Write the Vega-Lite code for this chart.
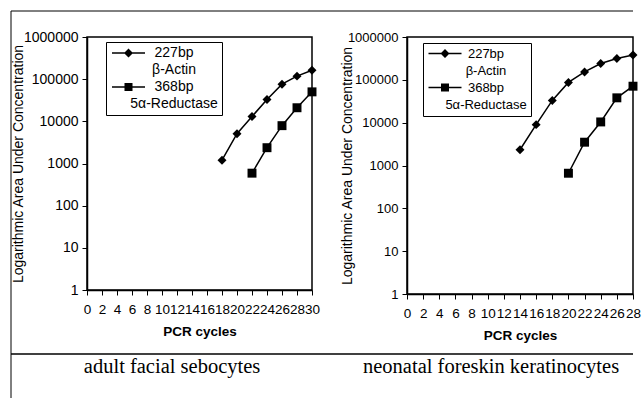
{
  "$schema": "https://vega.github.io/schema/vega-lite/v6.json",
  "padding": {"left": 10, "top": 10, "right": 0, "bottom": 0},
  "background": "white",
  "datasets": {
    "pcr": [
      {"panel": "adult", "gene": "227bp", "cycle": 18, "value": 1200},
      {"panel": "adult", "gene": "227bp", "cycle": 20, "value": 5100},
      {"panel": "adult", "gene": "227bp", "cycle": 22, "value": 13000},
      {"panel": "adult", "gene": "227bp", "cycle": 24, "value": 33000},
      {"panel": "adult", "gene": "227bp", "cycle": 26, "value": 76000},
      {"panel": "adult", "gene": "227bp", "cycle": 28, "value": 118000},
      {"panel": "adult", "gene": "227bp", "cycle": 30, "value": 163000},
      {"panel": "adult", "gene": "368bp", "cycle": 22, "value": 590},
      {"panel": "adult", "gene": "368bp", "cycle": 24, "value": 2370},
      {"panel": "adult", "gene": "368bp", "cycle": 26, "value": 7900},
      {"panel": "adult", "gene": "368bp", "cycle": 28, "value": 21000},
      {"panel": "adult", "gene": "368bp", "cycle": 30, "value": 50000},
      {"panel": "neonatal", "gene": "227bp", "cycle": 14, "value": 2330},
      {"panel": "neonatal", "gene": "227bp", "cycle": 16, "value": 9000},
      {"panel": "neonatal", "gene": "227bp", "cycle": 18, "value": 33000},
      {"panel": "neonatal", "gene": "227bp", "cycle": 20, "value": 87000},
      {"panel": "neonatal", "gene": "227bp", "cycle": 22, "value": 153000},
      {"panel": "neonatal", "gene": "227bp", "cycle": 24, "value": 240000},
      {"panel": "neonatal", "gene": "227bp", "cycle": 26, "value": 315000},
      {"panel": "neonatal", "gene": "227bp", "cycle": 28, "value": 380000},
      {"panel": "neonatal", "gene": "368bp", "cycle": 20, "value": 660},
      {"panel": "neonatal", "gene": "368bp", "cycle": 22, "value": 3500},
      {"panel": "neonatal", "gene": "368bp", "cycle": 24, "value": 10400},
      {"panel": "neonatal", "gene": "368bp", "cycle": 26, "value": 38000},
      {"panel": "neonatal", "gene": "368bp", "cycle": 28, "value": 71000}
    ],
    "one": [{"k": 0}]
  },
  "columns": 4,
  "spacing": 0,
  "bounds": "flush",
  "align": "each",
  "resolve": {"scale": {"shape": "independent", "x": "independent", "y": "independent"}, "legend": {"shape": "independent"}},
  "concat": [
    {
      "width": 76, "height": 26, "view": {"stroke": null}, "data": {"name": "one"},
      "layer": [
        {"mark": {"type": "rule", "color": "black", "strokeWidth": 1}, "encoding": {"y": {"datum": 1, "type": "quantitative", "scale": {"domain": [0, 1]}, "axis": null}}},
        {"mark": {"type": "rule", "color": "black", "strokeWidth": 1}, "encoding": {"x": {"datum": 0, "type": "quantitative", "scale": {"domain": [0, 1]}, "axis": null}}}
      ]
    },
    {
      "width": 225, "height": 26, "view": {"stroke": null}, "data": {"name": "one"},
      "mark": {"type": "rule", "color": "black", "strokeWidth": 1},
      "encoding": {"y": {"datum": 1, "type": "quantitative", "scale": {"domain": [0, 1]}, "axis": null}}
    },
    {
      "width": 95, "height": 26, "view": {"stroke": null}, "data": {"name": "one"},
      "mark": {"type": "rule", "color": "black", "strokeWidth": 1},
      "encoding": {"y": {"datum": 1, "type": "quantitative", "scale": {"domain": [0, 1]}, "axis": null}}
    },
    {
      "width": 226, "height": 26, "view": {"stroke": null}, "data": {"name": "one"},
      "mark": {"type": "rule", "color": "black", "strokeWidth": 1},
      "encoding": {"y": {"datum": 1, "type": "quantitative", "scale": {"domain": [0, 1]}, "axis": null}}
    },
    {
      "width": 76, "height": 317, "view": {"stroke": null}, "data": {"name": "one"},
      "mark": {"type": "rule", "color": "black", "strokeWidth": 1},
      "encoding": {"x": {"datum": 0, "type": "quantitative", "scale": {"domain": [0, 1]}, "axis": null}}
    },
    {
      "width": 225,
      "height": 253,
      "view": {"stroke": "black", "strokeWidth": 1.5},
      "data": {"name": "pcr"},
      "transform": [{"filter": "datum.panel === 'adult'"}],
      "encoding": {
        "x": {"field": "cycle", "type": "quantitative", "scale": {"domain": [0, 30], "nice": false, "zero": false},
          "axis": {"values": [0, 2, 4, 6, 8, 10, 12, 14, 16, 18, 20, 22, 24, 26, 28, 30], "title": "PCR cycles", "labelOverlap": false, "labelFlush": false}},
        "y": {"field": "value", "type": "quantitative", "scale": {"type": "log", "domain": [1, 1000000], "nice": false},
          "axis": {"values": [1, 10, 100, 1000, 10000, 100000, 1000000], "format": "d", "title": "Logarithmic Area Under Concentration"}}
      },
      "resolve": {"scale": {"shape": "independent"}, "legend": {"shape": "independent"}},
      "layer": [
        {"mark": {"type": "line", "color": "black", "strokeWidth": 1.5}, "encoding": {"detail": {"field": "gene"}}},
        {"mark": {"type": "point", "filled": true, "color": "black", "opacity": 1, "size": 80},
          "encoding": {"shape": {"field": "gene", "type": "nominal", "scale": {"domain": ["227bp", "368bp"], "range": ["diamond", "square"]}, "legend": null}}},
        {"transform": [{"filter": "datum.cycle < 0"}],
          "mark": {"type": "point", "filled": true, "fill": "black", "opacity": 1},
          "encoding": {"shape": {"field": "gene", "type": "nominal",
            "scale": {"domain": ["227bp", "β-Actin", "368bp", "5α-Reductase"], "range": ["M-1,-0.15L5.6,-0.15L5.6,0.15L-1,0.15ZM1.4,0L2.3,-0.9L3.2,0L2.3,0.9Z", "M0,0Z", "M-1,-0.15L5.6,-0.15L5.6,0.15L-1,0.15ZM1.5,-0.8L3.1,-0.8L3.1,0.8L1.5,0.8Z", "M0,0Z"]},
            "legend": {"title": null, "orient": "none", "legendX": 19, "legendY": 5, "direction": "vertical",
              "strokeColor": "black", "fillColor": "white", "padding": 4, "cornerRadius": 0,
              "symbolSize": 100, "symbolStrokeWidth": 0, "symbolFillColor": "black", "symbolOpacity": 1,
              "labelFont": "Liberation Sans", "labelFontSize": 14, "labelColor": "black", "labelAlign": "center", "labelOffset": 50, "labelBaseline": "middle", "labelLimit": 0,
              "rowPadding": 3}}}}
      ]
    },
    {
      "width": 95, "height": 10, "view": {"stroke": null},
      "data": {"values": []},
      "mark": "point",
      "encoding": {}
    },
    {
      "width": 226,
      "height": 257,
      "view": {"stroke": "black", "strokeWidth": 1.5},
      "data": {"name": "pcr"},
      "transform": [{"filter": "datum.panel === 'neonatal'"}],
      "encoding": {
        "x": {"field": "cycle", "type": "quantitative", "scale": {"domain": [0, 28], "nice": false, "zero": false},
          "axis": {"values": [0, 2, 4, 6, 8, 10, 12, 14, 16, 18, 20, 22, 24, 26, 28], "title": "PCR cycles", "labelOverlap": false, "labelFlush": false}},
        "y": {"field": "value", "type": "quantitative", "scale": {"type": "log", "domain": [1, 1000000], "nice": false},
          "axis": {"values": [1, 10, 100, 1000, 10000, 100000, 1000000], "format": "d", "title": "Logarithmic Area Under Concentration", "labelFontSize": 13, "titlePadding": -7}}
      },
      "resolve": {"scale": {"shape": "independent"}, "legend": {"shape": "independent"}},
      "layer": [
        {"mark": {"type": "line", "color": "black", "strokeWidth": 1.5}, "encoding": {"detail": {"field": "gene"}}},
        {"mark": {"type": "point", "filled": true, "color": "black", "opacity": 1, "size": 80},
          "encoding": {"shape": {"field": "gene", "type": "nominal", "scale": {"domain": ["227bp", "368bp"], "range": ["diamond", "square"]}, "legend": null}}},
        {"transform": [{"filter": "datum.cycle < 0"}],
          "mark": {"type": "point", "filled": true, "fill": "black", "opacity": 1},
          "encoding": {"shape": {"field": "gene", "type": "nominal",
            "scale": {"domain": ["227bp", "β-Actin", "368bp", "5α-Reductase"], "range": ["M-1,-0.15L5.6,-0.15L5.6,0.15L-1,0.15ZM1.4,0L2.3,-0.9L3.2,0L2.3,0.9Z", "M0,0Z", "M-1,-0.15L5.6,-0.15L5.6,0.15L-1,0.15ZM1.5,-0.8L3.1,-0.8L3.1,0.8L1.5,0.8Z", "M0,0Z"]},
            "legend": {"title": null, "orient": "none", "legendX": 16, "legendY": 6, "direction": "vertical",
              "strokeColor": "black", "fillColor": "white", "padding": 4, "cornerRadius": 0,
              "symbolSize": 100, "symbolStrokeWidth": 0, "symbolFillColor": "black", "symbolOpacity": 1,
              "labelFont": "Liberation Sans", "labelFontSize": 13, "labelColor": "black", "labelAlign": "center", "labelOffset": 46, "labelBaseline": "middle", "labelLimit": 0,
              "rowPadding": 3}}}}
      ]
    },
    {
      "width": 76, "height": 45, "view": {"stroke": null}, "data": {"name": "one"},
      "layer": [
        {"mark": {"type": "rule", "color": "black", "strokeWidth": 1.5}, "encoding": {"y": {"datum": 1, "type": "quantitative", "scale": {"domain": [0, 1]}, "axis": null}}},
        {"mark": {"type": "rule", "color": "black", "strokeWidth": 1}, "encoding": {"x": {"datum": 0, "type": "quantitative", "scale": {"domain": [0, 1]}, "axis": null}}}
      ]
    },
    {
      "width": 225, "height": 45, "view": {"stroke": null},
      "data": {"values": [{"label": "adult facial sebocytes", "pos": 0.378}]},
      "layer": [
        {"mark": {"type": "rule", "color": "black", "strokeWidth": 1.5}, "encoding": {"y": {"datum": 1, "type": "quantitative", "scale": {"domain": [0, 1]}, "axis": null}}},
        {"mark": {"type": "text", "font": "Liberation Serif", "fontSize": 20.5, "color": "black", "baseline": "middle", "align": "center"},
          "encoding": {"x": {"field": "pos", "type": "quantitative", "scale": {"domain": [0, 1]}, "axis": null},
            "y": {"datum": 0.711, "type": "quantitative", "scale": {"domain": [0, 1]}, "axis": null},
            "text": {"field": "label"}}}
      ]
    },
    {
      "width": 95, "height": 45, "view": {"stroke": null}, "data": {"name": "one"},
      "mark": {"type": "rule", "color": "black", "strokeWidth": 1.5},
      "encoding": {"y": {"datum": 1, "type": "quantitative", "scale": {"domain": [0, 1]}, "axis": null}}
    },
    {
      "width": 226, "height": 45, "view": {"stroke": null},
      "data": {"values": [{"label": "neonatal foreskin keratinocytes", "pos": 0.372}]},
      "layer": [
        {"mark": {"type": "rule", "color": "black", "strokeWidth": 1.5}, "encoding": {"y": {"datum": 1, "type": "quantitative", "scale": {"domain": [0, 1]}, "axis": null}}},
        {"mark": {"type": "text", "font": "Liberation Serif", "fontSize": 20.5, "color": "black", "baseline": "middle", "align": "center"},
          "encoding": {"x": {"field": "pos", "type": "quantitative", "scale": {"domain": [0, 1]}, "axis": null},
            "y": {"datum": 0.711, "type": "quantitative", "scale": {"domain": [0, 1]}, "axis": null},
            "text": {"field": "label"}}}
      ]
    }
  ],
  "config": {
    "view": {"stroke": null},
    "axis": {
      "grid": false, "domainColor": "black", "domainWidth": 1.5, "tickColor": "black", "tickWidth": 1, "tickSize": 5,
      "labelColor": "black", "titleColor": "black", "labelFont": "Liberation Sans", "titleFont": "Liberation Sans"
    },
    "axisX": {"labelFontSize": 13.5, "labelPadding": 7, "titleFontSize": 13.5, "titleFontWeight": "bold", "titlePadding": 9},
    "axisY": {"labelFontSize": 14, "labelPadding": 4, "titleFontSize": 14, "titleFontWeight": "normal", "titlePadding": -2}
  }
}
